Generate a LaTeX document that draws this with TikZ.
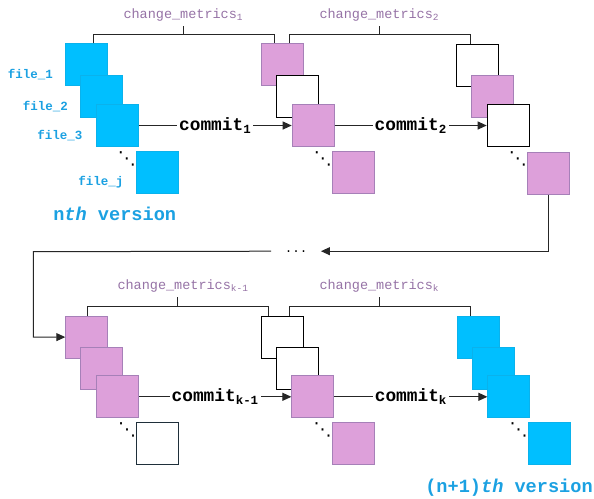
\documentclass[tikz,border=0pt]{standalone}
\usepackage{fontspec}
\setmonofont{Liberation Mono}
\newfontfamily\dejavu{DejaVu Sans}
\usetikzlibrary{arrows.meta,calc}
\definecolor{sky}{HTML}{00BFFF}
\definecolor{skyedge}{HTML}{0AB2EC}
\definecolor{plum}{HTML}{DDA0DA}
\definecolor{plumedge}{HTML}{A680B8}
\definecolor{purpletext}{HTML}{9673A6}
\definecolor{bluetext}{HTML}{1BA1E2}
\definecolor{darkedge}{HTML}{1F2F3A}
\begin{document}
\begin{tikzpicture}[x=1pt,y=-1pt,
  sq/.style={minimum size=42pt, inner sep=0pt, anchor=north west, line width=1pt},
  bluesq/.style={sq, fill=sky, draw=skyedge},
  pinksq/.style={sq, fill=plum, draw=plumedge},
  whitesq/.style={sq, fill=white, draw=black},
  conn/.style={line width=1pt, draw=black!85},
  arr/.style={conn, -{Triangle[length=9pt,width=8pt]}},
  filelbl/.style={anchor=base, text=bluetext, font=\ttfamily\bfseries\fontsize{12.5}{14}\selectfont},
  cmlbl/.style={anchor=base, text=purpletext, font=\ttfamily\fontsize{13.5}{16}\selectfont},
  commitlbl/.style={fill=white, inner sep=2pt, text=black, font=\ttfamily\bfseries\fontsize{17.8}{20}\selectfont},
  verlbl/.style={anchor=base, text=bluetext, font=\ttfamily\bfseries\fontsize{18.6}{22}\selectfont},
  diagdots/.style={inner sep=0pt, text=black, font=\dejavu\fontsize{18}{20}\selectfont}
]
\fill[white] (0,0) rectangle (594,498);
\useasboundingbox (0,0) rectangle (594,498);

% group 1 (nth version)
\node[bluesq] (g1a) at (65,43.3) {};
\node[bluesq] (g1b) at (80,74.8) {};
\node[bluesq] (g1c) at (95.7,104) {};
\node[bluesq] (g1j) at (136,151.1) {};
% group 2
\node[pinksq]  (g2a) at (261,43.3) {};
\node[whitesq] (g2b) at (276,74.8) {};
\node[pinksq]  (g2c) at (291.7,104) {};
\node[pinksq]  (g2j) at (332,151.1) {};
% group 3
\node[whitesq] (g3a) at (456,43.8) {};
\node[pinksq]  (g3b) at (471,75.3) {};
\node[whitesq] (g3c) at (486.7,104) {};
\node[pinksq]  (g3j) at (527,151.6) {};
% group 4
\node[pinksq] (g4a) at (65.3,315.6) {};
\node[pinksq] (g4b) at (80.3,347.1) {};
\node[pinksq] (g4c) at (96,375.3) {};
\node[whitesq, draw=darkedge] (g4j) at (136.3,422.3) {};
% group 5
\node[whitesq] (g5a) at (260.7,315.6) {};
\node[whitesq] (g5b) at (275.7,347.1) {};
\node[pinksq]  (g5c) at (291.4,375.3) {};
\node[pinksq]  (g5j) at (331.7,422.3) {};
% group 6 ((n+1)th version)
\node[bluesq] (g6a) at (456.7,315.6) {};
\node[bluesq] (g6b) at (471.7,347.1) {};
\node[bluesq] (g6c) at (487.4,375.3) {};
\node[bluesq] (g6j) at (527.7,422.3) {};

% diagonal dots
\foreach \g in {g1j,g2j,g3j,g4j,g5j,g6j}
  \node[diagdots] (dd\g) at ($(\g.north west)+(-9.2,7.5)$) {⋱};

% file labels
\node[filelbl] (f1) at (30.3,78.3) {file\_1};
\node[filelbl] (f2) at (45.5,110) {file\_2};
\node[filelbl] (f3) at (60,139.3) {file\_3};
\node[filelbl] (fj) at (101,185.5) {file\_j};

% version labels
\node[verlbl] (v1) at (114.7,220) {n\textit{th} version};
\node[verlbl] (v2) at (509,492) {(n+1)\textit{th} version};

% change_metrics labels and brackets
\node[cmlbl] (cm1) at (183.3,18.5) {change\_metrics\textsubscript{1}};
\node[cmlbl] (cm2) at (379.3,18.5) {change\_metrics\textsubscript{2}};
\node[cmlbl] (cm3) at (183,289.5) {change\_metrics\textsubscript{k-1}};
\node[cmlbl] (cm4) at (379.3,289.5) {change\_metrics\textsubscript{k}};

\coordinate (j1) at (183.3,34.7);
\coordinate (j2) at (379.3,34.7);
\coordinate (j3) at (177.7,306.3);
\coordinate (j4) at (379.3,306.3);

\draw[conn] ($(g1a.north)+(7.3,0)$) |- (j1) -| ($(g2a.north)+(-8,0)$);
\draw[conn] (j1) -- ++(0,-8.7);
\draw[conn] ($(g2a.north)+(6.7,0)$) |- (j2) -| ($(g3a.north)+(-7,0)$);
\draw[conn] (j2) -- ++(0,-8.7);
\draw[conn] ($(g4a.north)+(1,0)$) |- (j3) -| ($(g5a.north)+(-13.4,0)$);
\draw[conn] (j3) -- ++(0,-9);
\draw[conn] ($(g5a.north)+(7.3,0)$) |- (j4) -| ($(g6a.north)+(-7.7,0)$);
\draw[conn] (j4) -- ++(0,-9);

% commits
\draw[arr] (g1c) -- node[commitlbl]{commit\textsubscript{1}} (g2c);
\draw[arr] (g2c) -- node[commitlbl]{commit\textsubscript{2}} (g3c);
\draw[arr] (g4c) -- node[commitlbl]{commit\textsubscript{k-1}} (g5c);
\draw[arr] (g5c) -- node[commitlbl]{commit\textsubscript{k}} (g6c);

% return connector
\node[inner xsep=13.5pt, inner ysep=0pt, text=black, font=\ttfamily\fontsize{12.5}{14}\selectfont] (dots) at (296,251.2) {...};
\coordinate (corner) at (33.3,251.7);
\draw[arr] (g3j.south) |- (dots.east);
\draw[arr] (dots.west) -- (corner) |- (g4a.west);
\end{tikzpicture}
\end{document}
